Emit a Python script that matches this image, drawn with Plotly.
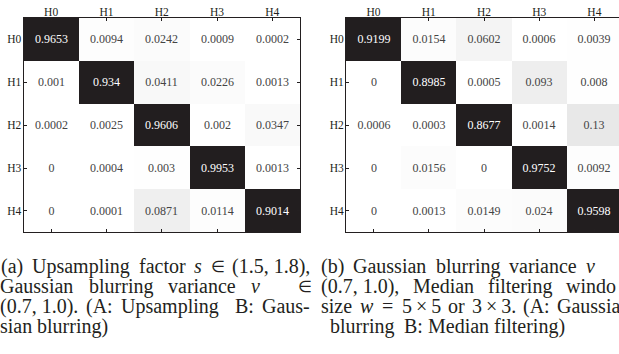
import re
import plotly.graph_objects as go

labels = ["H0", "H1", "H2", "H3", "H4"]

cm_a = [
    [0.9653, 0.0094, 0.0242, 0.0009, 0.0002],
    [0.001, 0.934, 0.0411, 0.0226, 0.0013],
    [0.0002, 0.0025, 0.9606, 0.002, 0.0347],
    [0, 0.0004, 0.003, 0.9953, 0.0013],
    [0, 0.0001, 0.0871, 0.0114, 0.9014],
]
cm_b = [
    [0.9199, 0.0154, 0.0602, 0.0006, 0.0039],
    [0, 0.8985, 0.0005, 0.093, 0.008],
    [0.0006, 0.0003, 0.8677, 0.0014, 0.13],
    [0, 0.0156, 0, 0.9752, 0.0092],
    [0, 0.0013, 0.0149, 0.024, 0.9598],
]

W, H = 619, 354
INK = "#231f20"
SERIF = "Liberation Serif"
CAP = 20  # caption font size
ELEM = '<span style="font-size:16px">∈</span>'


def px(x):
    return x / W


def py(y):
    return 1 - y / H


colorscale = [[0, "#ffffff"], [0.15, "#e4e4e4"], [0.8, "#221e1f"], [1, "#221e1f"]]
idx = list(range(len(labels)))

fig = go.Figure()
for cm, xa, ya in [(cm_a, "x", "y"), (cm_b, "x2", "y2")]:
    fig.add_trace(go.Heatmap(
        z=cm, x=idx, y=idx,
        text=[[f"{v:g}" for v in row] for row in cm],
        texttemplate="%{text}",
        textfont=dict(family=SERIF, size=12),
        colorscale=colorscale, zmin=0, zmax=1, showscale=False,
        xaxis=xa, yaxis=ya, hoverinfo="skip",
    ))

ydom = [py(232.3), py(18)]
axstyle = dict(
    tickvals=idx, ticktext=labels, ticks="inside", ticklen=3, tickwidth=1,
    tickcolor=INK, showline=True, linecolor=INK, linewidth=1,
    showgrid=False, zeroline=False,
    tickfont=dict(family=SERIF, size=11.5, color=INK),
)
colw = 55.2
fig.update_layout(
    width=W, height=H, margin=dict(l=0, r=0, t=0, b=0),
    paper_bgcolor="white", plot_bgcolor="white", showlegend=False,
    xaxis=dict(domain=[px(23.5), px(300)], range=[-0.5, 4.5], side="top",
               mirror="ticks", anchor="y", ticklabelstandoff=-4, **axstyle),
    yaxis=dict(domain=ydom, range=[4.5, -0.5], mirror="ticks", anchor="x",
               ticklabelstandoff=-1, **axstyle),
    xaxis2=dict(domain=[px(346), 1], range=[-0.5, -0.5 + (W - 346) / colw], side="top",
                mirror="ticks", anchor="y2", ticklabelstandoff=-4, **axstyle),
    yaxis2=dict(domain=ydom, range=[4.5, -0.5], mirror=False, anchor="x2",
                ticklabelstandoff=-1, **axstyle),
    yaxis3=dict(domain=ydom, range=[4.5, -0.5], overlaying="y2", anchor="x2", side="right",
                tickvals=idx, ticks="inside", ticklen=3, tickcolor=INK, showticklabels=False,
                showline=False, showgrid=False, zeroline=False),
)

# --- caption typesetting (Times metrics, per 1000 em) ---
MET = {" ": 250, "(": 333, ")": 333, ",": 250, ".": 250, "-": 333, ":": 278, "=": 564,
       "×": 564, "∈": 600, "ν": 444, "\u2009": 167,
       "A": 722, "B": 667, "G": 722, "M": 889, "U": 722}
MET.update({d: 500 for d in "0123456789"})
MET.update(dict(a=444, b=500, c=444, d=500, e=444, f=333, g=500, i=278, l=278, m=778,
                n=500, o=500, p=500, r=333, s=389, t=278, u=500, v=500, w=722, z=444))


def tw(word):
    plain = re.sub(r"<[^>]+>", "", word)
    return sum(MET.get(ch, 500) for ch in plain) * CAP / 1000


def justify(words, left, right, weights=None):
    weights = weights or [1] * (len(words) - 1)
    free = (right - left) - sum(tw(w) for w in words)
    unit = free / sum(weights)
    xs, x = [], left
    for i, w in enumerate(words):
        xs.append(x)
        x += tw(w) + (unit * weights[i] if i < len(weights) else 0)
    return list(zip(words, xs))


def natural(words, left, gaps):
    xs, x = [], left
    for i, w in enumerate(words):
        xs.append(x)
        x += tw(w) + (gaps[i] if i < len(gaps) else 0)
    return list(zip(words, xs))


LINE_Y = [266, 286, 306, 326]
caption_lines = [
    (justify(["(a)", "Upsampling", "factor", "<i>s</i>", ELEM, "(1.5, 1.8),"], 0, 309), LINE_Y[0]),
    (justify(["Gaussian", "blurring", "variance", "<i>ν</i>", ELEM], -1, 309, [1.2, 1.2, 1.2, 3]), LINE_Y[1]),
    (justify(["(0.7, 1.0).", "(A:", "Upsampling", "B:", "Gaus-"], -1, 309, [1, 1, 2, 1]), LINE_Y[2]),
    (natural(["sian", "blurring)"], -1, [5]), LINE_Y[3]),
    # right column is cropped at the picture edge: only the visible part is kept
    (natural(["(b)", "Gaussian", "blurring", "variance", "<i>ν</i>"], 320, [9, 9, 9, 9]), LINE_Y[0]),
    (justify(["(0.7, 1.0),", "Median", "filtering", "window"], 320, 630)[:-1] +
     [("windo", 565)], LINE_Y[1]),
    (justify(["size", "<i>w</i>", "=", "5\u2009×\u20095", "or", "3\u2009×\u20093.", "(A:", "Gaussian"], 320, 630)[:-1] +
     [("Gaussia", 556)], LINE_Y[2]),
    (natural(["blurring", "B:", "Median", "filtering)"], 329, [10, 5, 5]), LINE_Y[3]),
]
for words, y in caption_lines:
    for txt, x in words:
        fig.add_annotation(text=txt, x=px(x), y=py(y), xref="paper", yref="paper",
                           xanchor="left", yanchor="middle", showarrow=False,
                           font=dict(family=SERIF, size=CAP, color=INK), borderpad=0)

fig.write_html("out.html", config={"displayModeBar": False},
               post_script="document.body.style.margin='0';")
